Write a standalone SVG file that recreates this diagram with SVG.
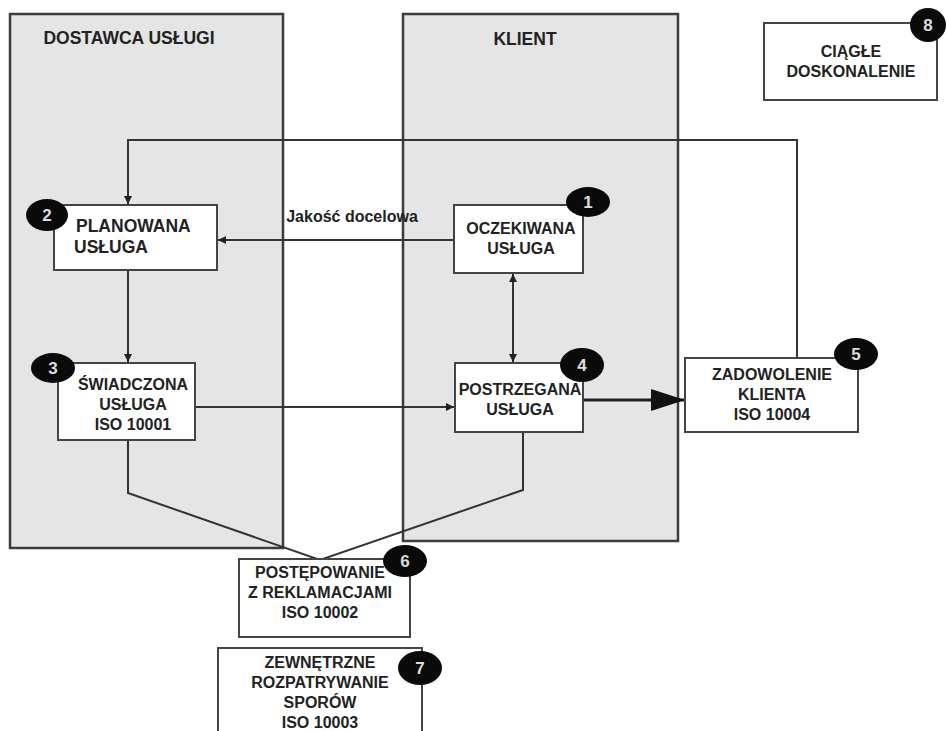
<svg xmlns="http://www.w3.org/2000/svg" width="947" height="731" viewBox="0 0 947 731">
<defs>
<marker id="ah" viewBox="0 0 10 10" refX="10" refY="5" markerWidth="8" markerHeight="8" markerUnits="userSpaceOnUse" orient="auto-start-reverse">
<path d="M0,0 L10,5 L0,10 z" fill="#222"/>
</marker>
<marker id="ahBig" viewBox="0 0 10 10" refX="10" refY="5" markerWidth="34" markerHeight="22" markerUnits="userSpaceOnUse" orient="auto" preserveAspectRatio="none">
<path d="M0,0 L10,5 L0,10 z" fill="#111"/>
</marker>
</defs>
<style>
.panel{fill:#e5e5e5;stroke:#3c3c3c;stroke-width:2.5}
.box{fill:#fff;stroke:#444;stroke-width:2}
.t{font-family:"Liberation Sans",Arial,sans-serif;font-weight:bold;fill:#222;text-anchor:middle}
.bt{font-size:16px}
.ht{font-size:17.5px}
.badge{fill:#0a0a0a}
.bn{font-family:"Liberation Sans",Arial,sans-serif;font-weight:bold;font-size:17px;fill:#ddd;text-anchor:middle}
.ln{fill:none;stroke:#333;stroke-width:2}
</style>
<rect width="947" height="731" fill="#fff"/>
<g id="panel-dostawca">
<rect class="panel" x="10" y="14" width="273" height="534"/>
<text class="t ht" x="129" y="44">DOSTAWCA USŁUGI</text>
</g>
<g id="panel-klient">
<rect class="panel" x="403" y="14" width="275" height="527"/>
<text class="t ht" x="525" y="45">KLIENT</text>
</g>
<g id="connectors">
<polyline class="ln" points="797,358 797,140 128,140 128,204" marker-end="url(#ah)"/>
<line class="ln" x1="454" y1="240" x2="218" y2="240" marker-end="url(#ah)"/>
<text class="t" x="352" y="222" font-size="16">Jakość docelowa</text>
<line class="ln" x1="128" y1="270" x2="128" y2="362" marker-end="url(#ah)"/>
<line class="ln" x1="195" y1="407" x2="454" y2="407" marker-end="url(#ah)"/>
<line class="ln" x1="513" y1="274" x2="513" y2="362" marker-start="url(#ah)" marker-end="url(#ah)"/>
<line x1="583" y1="400" x2="685" y2="400" stroke="#222" stroke-width="3" marker-end="url(#ahBig)"/>
<polyline class="ln" points="128,440 128,493 320,560 523,490 523,432"/>
</g>
<g id="node-1">
<rect class="box" x="454" y="205" width="129" height="68"/>
<text class="t bt" x="521" y="234">OCZEKIWANA</text>
<text class="t bt" x="521" y="254">USŁUGA</text>
<ellipse class="badge" cx="588" cy="202" rx="22" ry="15"/>
<text class="bn" x="588" y="208">1</text>
</g>
<g id="node-2">
<rect class="box" x="54" y="205" width="163" height="65"/>
<text class="t ht" x="76" y="232" style="text-anchor:start">PLANOWANA</text>
<text class="t ht" x="74" y="253" style="text-anchor:start">USŁUGA</text>
<ellipse class="badge" cx="47" cy="215" rx="21" ry="16"/>
<text class="bn" x="47" y="221">2</text>
</g>
<g id="node-3">
<rect class="box" x="58" y="363" width="137" height="77"/>
<text class="t bt" x="133" y="390">ŚWIADCZONA</text>
<text class="t bt" x="133" y="410">USŁUGA</text>
<text class="t bt" x="133" y="430">ISO 10001</text>
<ellipse class="badge" cx="53" cy="368" rx="22" ry="15"/>
<text class="bn" x="53" y="374">3</text>
</g>
<g id="node-4">
<rect class="box" x="455" y="363" width="128" height="69"/>
<text class="t" x="520" y="395" font-size="16">POSTRZEGANA</text>
<text class="t bt" x="520" y="415">USŁUGA</text>
<ellipse class="badge" cx="582" cy="365" rx="22" ry="17"/>
<text class="bn" x="582" y="371">4</text>
</g>
<g id="node-5">
<rect class="box" x="685" y="358" width="173" height="74"/>
<text class="t bt" x="772" y="380">ZADOWOLENIE</text>
<text class="t bt" x="772" y="400">KLIENTA</text>
<text class="t bt" x="772" y="420">ISO 10004</text>
<ellipse class="badge" cx="856" cy="354" rx="22" ry="16"/>
<text class="bn" x="856" y="360">5</text>
</g>
<g id="node-6">
<rect class="box" x="239" y="559" width="171" height="78"/>
<text class="t bt" x="320" y="578">POSTĘPOWANIE</text>
<text class="t bt" x="320" y="598">Z REKLAMACJAMI</text>
<text class="t bt" x="320" y="618">ISO 10002</text>
<ellipse class="badge" cx="405" cy="561" rx="22" ry="16"/>
<text class="bn" x="405" y="567">6</text>
</g>
<g id="node-7">
<rect class="box" x="218" y="648" width="204" height="95"/>
<text class="t bt" x="320" y="668">ZEWNĘTRZNE</text>
<text class="t bt" x="320" y="688">ROZPATRYWANIE</text>
<text class="t bt" x="320" y="708">SPORÓW</text>
<text class="t bt" x="320" y="728">ISO 10003</text>
<ellipse class="badge" cx="420" cy="668" rx="22" ry="17"/>
<text class="bn" x="420" y="674">7</text>
</g>
<g id="node-8">
<rect class="box" x="764" y="23" width="173" height="77"/>
<text class="t bt" x="851" y="57">CIĄGŁE</text>
<text class="t bt" x="851" y="77">DOSKONALENIE</text>
<ellipse class="badge" cx="928" cy="25" rx="18" ry="17"/>
<text class="bn" x="928" y="31">8</text>
</g>
</svg>
